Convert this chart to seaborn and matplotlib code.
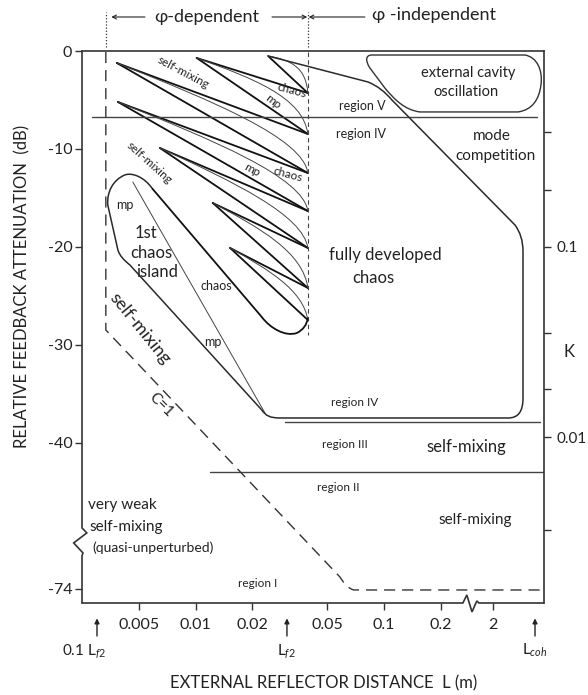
import matplotlib
matplotlib.use("Agg")
import matplotlib.pyplot as plt
import seaborn as sns
import pandas as pd
from matplotlib.path import Path
from matplotlib.patches import PathPatch
from matplotlib.ticker import NullLocator

# ---------------- data: L in metres, feedback in dB (below the axis break the
# dB axis is compressed, values there are display positions) ----------------
X_TICK_VALUES = [0.005, 0.01, 0.02, 0.05, 0.1, 0.2, 0.381]
X_TICK_LABELS = ["0.005", "0.01", "0.02", "0.05", "0.1", "0.2", "2"]

Y_TICK_VALUES = [0, -10, -20, -30, -40, -54.9]
Y_TICK_LABELS = ["0", "-10", "-20", "-30", "-40", "-74"]

K_TICK_DB = [-8.23, -14.18, -19.97, -28.74, -34.49, -39.42, -48.88]
K_TICK_LABELS = ["", "", "0.1", "", "", "0.01", ""]

# tongues: apex on the left, convergence points on the phi boundary
APEX_L = [0.0242, 0.0101, 0.0038, 0.00385, 0.00644, 0.0123, 0.0152]
APEX_DB = [-0.51, -0.71, -1.22, -5.20, -9.90, -15.51, -20.10]
CONV_L = 0.0394
CONV_DB = [-4.29, -8.47, -12.45, -16.33, -20.10, -24.18, -27.45]
THIN_C1_L = [0.0324, 0.0199, 0.0122, 0.0123, 0.0159, 0.0219, 0.0245]
THIN_C1_DB = [-0.92, -2.76, -5.10, -9.08, -13.37, -18.06, -22.35]
THIN_C2_L = [0.0385, 0.0371, 0.0371, 0.0371, 0.0371, 0.0371, 0.0371]
THIN_C2_DB = [-1.73, -4.69, -8.88, -12.86, -16.73, -20.51, -24.39]

# outline: 1st chaos island loop + region IV (fully developed chaos)
BOUNDARY_L = [0.00583, 0.00536, 0.00462, 0.00419, 0.00362, 0.00336, 0.00340,
              0.00385, 0.00394, 0.00414, 0.00446, 0.0224, 0.0236, 0.0248, 0.0280,
              0.457, 0.516, 0.549, 0.549, 0.549, 0.549, 0.529, 0.498, 0.1103,
              0.1012, 0.0929, 0.0822, 0.0242]
BOUNDARY_DB = [-13.98, -12.96, -12.35, -12.65, -13.16, -14.39, -15.71,
               -20.31, -20.92, -21.33, -21.84, -36.63, -37.24, -37.45, -37.45,
               -37.45, -37.45, -36.84, -35.41, -20.51, -19.29, -18.47, -17.76, -5.00,
               -4.18, -3.57, -3.16, -0.51]
BOUNDARY_CODES = "MCCCCCCLCCCLCCCLCCCLCCCLCCCL"

ISLAND_EDGE_L = [0.00583, 0.0224, 0.0248, 0.0298, 0.0344, 0.0371, 0.0389, 0.0394]
ISLAND_EDGE_DB = [-13.98, -27.14, -28.27, -29.18, -28.78, -28.47, -27.96, -27.24]
ISLAND_EDGE_CODES = "MLCCCCCC"

ISLAND_INNER_L = [0.00462, 0.0233]
ISLAND_INNER_DB = [-13.37, -36.94]

CAVITY_L = [0.0863, 0.562, 0.651, 0.701, 0.684, 0.668, 0.613, 0.516, 0.1554,
            0.1293, 0.1144, 0.1012, 0.0842, 0.0792, 0.0802, 0.0863]
CAVITY_DB = [-0.41, -0.41, -0.61, -1.94, -3.47, -5.00, -6.02, -6.22, -6.22,
             -6.02, -5.00, -3.78, -1.73, -0.92, -0.41, -0.41]
CAVITY_CODES = "MLCCCCCCLCCCLCCC"

C1_L = [0.00332, 0.00332, 0.0583, 0.0613, 0.0636, 0.0692, 0.684]
C1_DB = [-0.10, -28.47, -53.67, -54.29, -54.80, -55.00, -55.00]
C1_CODES = "MLLCCCL"

PHI_BOUNDARY_L = [0.0394, 0.0394]
PHI_BOUNDARY_DB = [-0.10, -28.98]

HLINE_DB = [-6.73, -37.86, -42.96]
HLINE_START_L = [0.00280, 0.0298, 0.0119]
HLINE_END_L = [0.651, 0.676, 0.710]

LEFT_SPINE_L = [0.00248, 0.00248, 0.00263, 0.00224, 0.00251, 0.00248, 0.00248]
LEFT_SPINE_DB = [0, -48.67, -49.18, -50.20, -51.22, -51.53, -56.33]
BOTTOM_SPINE_L = [0.00248, 0.263, 0.276, 0.294, 0.312, 0.320, 0.710]
BOTTOM_SPINE_DB = [-56.33, -56.33, -55.51, -57.24, -56.12, -56.33, -56.33]

MARK_L = [0.00298, 0.0305, 0.636]
MARK_LABELS = ["0.1 L$_{f2}$", "L$_{f2}$", "L$_{coh}$"]
MARK_LABEL_L = [0.00255, 0.0305, 0.636]

# ---------------- style ----------------
sns.set_theme(style="ticks")
plt.rcParams["font.family"] = ["Lato", "DejaVu Sans"]
plt.rcParams["mathtext.fontset"] = "custom"
plt.rcParams["mathtext.rm"] = "Lato"
plt.rcParams["mathtext.it"] = "Lato:italic"
INK = "#222222"

fig = plt.figure(figsize=(5.88, 6.95), dpi=100)
ax = fig.add_axes([82 / 588, 92 / 695, 462 / 588, 552 / 695])
ax.set_xscale("log")
ax.set_xlim(0.00248, 0.710)
ax.set_ylim(-56.33, 0)

CODEMAP = {"M": Path.MOVETO, "L": Path.LINETO, "C": Path.CURVE4}


def draw_path(Ls, dBs, codes, lw, color=INK, ls="-", zorder=3):
    p = Path(list(zip(Ls, dBs)), [CODEMAP[c] for c in codes])
    ax.add_patch(PathPatch(p, fill=False, lw=lw, edgecolor=color, ls=ls,
                           transform=ax.transData, zorder=zorder, capstyle="butt"))


# straight tongue edges via seaborn
rows = []
seg = 0
for k in range(len(APEX_L)):
    ends = [CONV_DB[k]] if k == 0 else [CONV_DB[k - 1], CONV_DB[k]]
    for e in ends:
        rows.append({"seg": seg, "L": APEX_L[k], "dB": APEX_DB[k]})
        rows.append({"seg": seg, "L": CONV_L, "dB": e})
        seg += 1
rows.append({"seg": seg, "L": ISLAND_INNER_L[0], "dB": ISLAND_INNER_DB[0]})
rows.append({"seg": seg, "L": ISLAND_INNER_L[1], "dB": ISLAND_INNER_DB[1]})
df = pd.DataFrame(rows)
sns.lineplot(data=df[df.seg < seg], x="L", y="dB", units="seg", estimator=None,
             sort=False, color="#111111", linewidth=1.3, ax=ax, legend=False)
sns.lineplot(data=df[df.seg == seg], x="L", y="dB", units="seg", estimator=None,
             sort=False, color="#444444", linewidth=0.7, ax=ax, legend=False)

# thin inner curves of the tongues
for k in range(len(APEX_L)):
    draw_path([APEX_L[k], THIN_C1_L[k], THIN_C2_L[k], CONV_L],
              [APEX_DB[k], THIN_C1_DB[k], THIN_C2_DB[k], CONV_DB[k]],
              "MCCC", lw=0.7, color="#444444")

draw_path(BOUNDARY_L, BOUNDARY_DB, BOUNDARY_CODES, lw=1.1, color="#2a2a2a")
draw_path(ISLAND_EDGE_L, ISLAND_EDGE_DB, ISLAND_EDGE_CODES, lw=1.3, color="#111111")
draw_path(CAVITY_L, CAVITY_DB, CAVITY_CODES, lw=1.0, color="#333333")
draw_path(C1_L, C1_DB, C1_CODES, lw=1.0, color="#333333", ls=(0, (8, 5)))
ax.plot(PHI_BOUNDARY_L, PHI_BOUNDARY_DB, color="#444444", lw=0.8, ls=(0, (4, 3)))

for d, a, b in zip(HLINE_DB, HLINE_START_L, HLINE_END_L):
    ax.plot([a, b], [d, d], color="#444444", lw=1.0, zorder=2)

# frame with breaks
for s in ["left", "bottom"]:
    ax.spines[s].set_visible(False)
for s in ["top", "right"]:
    ax.spines[s].set_linewidth(1.2)
    ax.spines[s].set_color("#333333")
ax.plot(LEFT_SPINE_L, LEFT_SPINE_DB, color="#333333", lw=1.2, clip_on=False,
        solid_joinstyle="miter")
ax.plot(BOTTOM_SPINE_L, BOTTOM_SPINE_DB, color="#333333", lw=1.2, clip_on=False,
        solid_joinstyle="miter")

ax.xaxis.set_minor_locator(NullLocator())
ax.set_xticks(X_TICK_VALUES, X_TICK_LABELS)
ax.set_yticks(Y_TICK_VALUES, Y_TICK_LABELS)
ax.tick_params(axis="x", direction="out", length=5, width=1, color="#333333",
               pad=5.5, labelsize=11.5, labelcolor=INK)
ax.tick_params(axis="y", direction="out", length=5, width=1, color="#333333",
               pad=2, labelsize=11.5, labelcolor=INK)
ax.set_xlabel("")
ax.set_ylabel("")

ax2 = ax.twinx()
ax2.set_ylim(ax.get_ylim())
for s in ax2.spines.values():
    s.set_visible(False)
ax2.set_yticks(K_TICK_DB, K_TICK_LABELS)
ax2.tick_params(axis="y", direction="out", length=5, width=1, color="#333333",
                pad=4, labelsize=11, labelcolor=INK)
ax2.text(1.055, 0.455, "K", transform=ax.transAxes, fontsize=12, color=INK,
         ha="center", va="center")

# arrows under the x axis
for L, txt, lx in zip(MARK_L, MARK_LABELS, MARK_LABEL_L):
    ax.annotate("", xy=(L, -57.9), xytext=(L, -59.7),
                arrowprops=dict(arrowstyle="-|>", lw=1.0, color=INK,
                                mutation_scale=7, shrinkA=0, shrinkB=0),
                annotation_clip=False)
    ax.text(lx, -61.2, txt, ha="center", va="center", fontsize=11, color=INK)

# header
for L in [0.00332, 0.0394]:
    ax.plot([L, L], [0.41, 3.98], color="#333333", lw=0.9, ls=(0, (1, 1.5)),
            clip_on=False)
for a, b in [(0.00536, 0.00355), (0.0254, 0.0391), (0.0792, 0.0398)]:
    ax.annotate("", xy=(b, 3.47), xytext=(a, 3.47),
                arrowprops=dict(arrowstyle="->", lw=0.8, color=INK,
                                mutation_scale=7, shrinkA=0, shrinkB=0),
                annotation_clip=False)
ax.text(0.0114, 3.47, "φ-dependent", ha="center", va="center", fontsize=13, color=INK)
ax.text(0.0863, 3.70, "φ -independent", ha="left", va="center", fontsize=13, color=INK)

ax.text(-0.13, 0.574, "RELATIVE FEEDBACK ATTENUATION  (dB)", rotation=90,
        transform=ax.transAxes, ha="center", va="center", fontsize=12, color=INK)
ax.text(0.524, -0.145, "EXTERNAL REFLECTOR DISTANCE  L (m)", transform=ax.transAxes,
        ha="center", va="center", fontsize=12, color=INK)

# annotations inside the plot: (text, L, dB, rotation, size, ha)
LABELS = [
    ("self-mixing", 0.00853, -2.24, -28, 8.5, "center"),
    ("mp", 0.0257, -5.20, -38, 8.5, "center"),
    ("chaos", 0.0324, -3.98, -15, 8.5, "center"),
    ("self-mixing", 0.00569, -11.43, -42, 8.5, "center"),
    ("mp", 0.0199, -12.14, -28, 8.5, "center"),
    ("chaos", 0.0309, -12.65, -15, 8.5, "center"),
    ("mp", 0.00419, -15.71, 0, 9, "center"),
    ("1st", 0.00542, -18.57, 0, 12, "center"),
    ("chaos", 0.00583, -20.61, 0, 12, "center"),
    ("island", 0.00620, -22.55, 0, 12, "center"),
    ("chaos", 0.0129, -23.98, 0, 9, "center"),
    ("mp", 0.0123, -29.69, 0, 9, "center"),
    ("self-mixing", 0.00504, -28.3, -51, 13, "center"),
    ("C=1", 0.00650, -36.1, -45, 11, "center"),
    ("very weak", 0.00266, -46.33, 0, 11, "left"),
    ("self-mixing", 0.00273, -48.57, 0, 11, "left"),
    ("(quasi-unperturbed)", 0.00283, -50.71, 0, 10, "left"),
    ("region I", 0.0214, -54.29, 0, 8.5, "center"),
    ("region II", 0.0569, -44.59, 0, 8.5, "center"),
    ("region III", 0.0620, -40.20, 0, 8.5, "center"),
    ("self-mixing", 0.276, -40.41, 0, 12, "center"),
    ("self-mixing", 0.305, -47.86, 0, 11, "center"),
    ("region IV", 0.0701, -35.82, 0, 8.5, "center"),
    ("fully developed", 0.1012, -20.82, 0, 12, "center"),
    ("chaos", 0.0874, -23.16, 0, 12, "center"),
    ("region V", 0.0764, -5.61, 0, 9, "center"),
    ("region IV", 0.0755, -8.47, 0, 9, "center"),
    ("external cavity", 0.280, -2.24, 0, 10.5, "center"),
    ("oscillation", 0.273, -4.18, 0, 10.5, "center"),
    ("mode", 0.375, -8.67, 0, 11, "center"),
    ("competition", 0.394, -10.71, 0, 11, "center"),
]
for txt, L, d, rot, fs, ha in LABELS:
    ax.text(L, d, txt, rotation=rot, rotation_mode="anchor", ha=ha, va="center",
            fontsize=fs, color=INK, zorder=5)

fig.savefig("out.png", dpi=100)
